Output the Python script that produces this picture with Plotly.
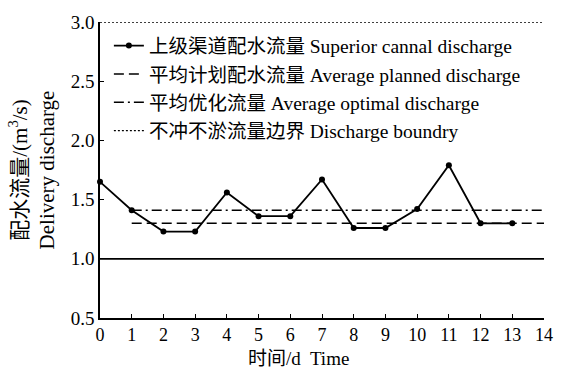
import plotly.graph_objects as go

days = list(range(0, 14))
superior = [1.65, 1.41, 1.23, 1.23, 1.56, 1.36, 1.36, 1.67, 1.26, 1.26, 1.42, 1.79, 1.30, 1.30]
planned_x = [1, 14]
planned = [1.30, 1.30]
optimal_x = [1, 14]
optimal = [1.41, 1.41]
bound_x = [0, 14]
upper_bound = [3.0, 3.0]
lower_bound = [1.0, 1.0]
x_ticks = list(range(0, 15))
y_ticks = [0.5, 1.0, 1.5, 2.0, 2.5, 3.0]

FONT = "Liberation Serif, Times New Roman, Noto Sans CJK SC, serif"

fig = go.Figure()
fig.add_trace(go.Scatter(x=days, y=superior, mode="lines+markers",
                         line=dict(color="black", width=1.8),
                         marker=dict(color="black", size=6),
                         name="上级渠道配水流量 Superior cannal discharge",
                         legendgroup="a", cliponaxis=False))
fig.add_trace(go.Scatter(x=planned_x, y=planned, mode="lines",
                         line=dict(color="black", width=1.5, dash="10px,5px"),
                         name="平均计划配水流量 Average planned discharge",
                         legendgroup="b", cliponaxis=False))
fig.add_trace(go.Scatter(x=optimal_x, y=optimal, mode="lines",
                         line=dict(color="black", width=1.5, dash="10px,4px,2px,4px"),
                         name="平均优化流量 Average optimal discharge",
                         legendgroup="c", cliponaxis=False))
fig.add_trace(go.Scatter(x=bound_x, y=upper_bound, mode="lines",
                         line=dict(color="black", width=1.4, dash="2px,2px"),
                         name="不冲不淤流量边界 Discharge boundry",
                         legendgroup="d", cliponaxis=False))
fig.add_trace(go.Scatter(x=bound_x, y=lower_bound, mode="lines",
                         line=dict(color="black", width=1.8),
                         showlegend=False, cliponaxis=False))

fig.update_layout(
    width=565, height=373,
    margin=dict(l=100, r=12, t=17, b=55),
    paper_bgcolor="white", plot_bgcolor="white",
    font=dict(family=FONT, size=18, color="black"),
    showlegend=True,
    legend=dict(x=0.02, y=0.985, xanchor="left", yanchor="top",
                bgcolor="rgba(0,0,0,0)", font=dict(size=19.5, family=FONT),
                tracegroupgap=0, itemwidth=30),
    xaxis=dict(range=[0, 14], tickvals=x_ticks, ticks="inside", ticklen=4,
               tickcolor="black", showline=True, linecolor="black", linewidth=1.6,
               showgrid=False, zeroline=False, tickfont=dict(size=18)),
    yaxis=dict(range=[0.5, 3.0], tickvals=y_ticks, tickformat=".1f",
               ticks="inside", ticklen=4, tickcolor="black",
               showline=True, linecolor="black", linewidth=1.6,
               showgrid=False, zeroline=False, tickfont=dict(size=19),
               title=dict(text="配水流量/(m<sup>3</sup>/s)<br>Delivery discharge",
                          font=dict(size=21), standoff=10)),
)
fig.add_annotation(text="时间/d  Time", xref="paper", yref="paper",
                   x=0.448, y=0, yshift=-40, yanchor="middle", showarrow=False,
                   font=dict(size=19))

fig.write_html("out.html")
